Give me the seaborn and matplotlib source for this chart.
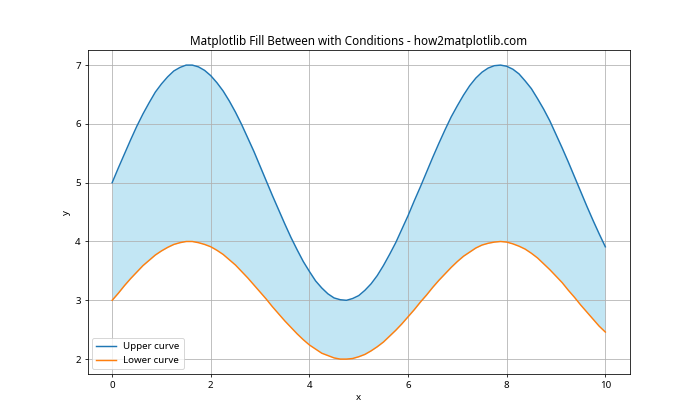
import matplotlib
matplotlib.use("Agg")
import matplotlib.pyplot as plt
import seaborn as sns
import pandas as pd

plt.rcParams['font.family'] = ['Noto Sans', 'DejaVu Sans']

x_vals = [0.0, 0.125, 0.25, 0.375, 0.5, 0.625, 0.75, 0.875,
          1.0, 1.125, 1.25, 1.375, 1.5, 1.625, 1.75, 1.875,
          2.0, 2.125, 2.25, 2.375, 2.5, 2.625, 2.75, 2.875,
          3.0, 3.125, 3.25, 3.375, 3.5, 3.625, 3.75, 3.875,
          4.0, 4.125, 4.25, 4.375, 4.5, 4.625, 4.75, 4.875,
          5.0, 5.125, 5.25, 5.375, 5.5, 5.625, 5.75, 5.875,
          6.0, 6.125, 6.25, 6.375, 6.5, 6.625, 6.75, 6.875,
          7.0, 7.125, 7.25, 7.375, 7.5, 7.625, 7.75, 7.875,
          8.0, 8.125, 8.25, 8.375, 8.5, 8.625, 8.75, 8.875,
          9.0, 9.125, 9.25, 9.375, 9.5, 9.625, 9.75, 9.875,
          10.0]
upper_vals = [5.00, 5.25, 5.49, 5.73, 5.96, 6.17, 6.36, 6.54,
              6.68, 6.80, 6.90, 6.96, 7.00, 7.00, 6.97, 6.91,
              6.82, 6.70, 6.56, 6.39, 6.20, 5.99, 5.76, 5.53,
              5.28, 5.03, 4.78, 4.54, 4.30, 4.07, 3.86, 3.66,
              3.49, 3.33, 3.21, 3.11, 3.04, 3.01, 3.00, 3.03,
              3.08, 3.17, 3.28, 3.42, 3.59, 3.78, 3.98, 4.21,
              4.44, 4.69, 4.93, 5.18, 5.43, 5.67, 5.90, 6.12,
              6.31, 6.49, 6.65, 6.78, 6.88, 6.95, 6.99, 7.00,
              6.98, 6.93, 6.85, 6.73, 6.60, 6.43, 6.25, 6.05,
              5.82, 5.59, 5.35, 5.10, 4.85, 4.60, 4.36, 4.13,
              3.91]
lower_vals = [3.00, 3.12, 3.25, 3.37, 3.48, 3.59, 3.68, 3.77,
              3.84, 3.90, 3.95, 3.98, 4.00, 4.00, 3.98, 3.95,
              3.91, 3.85, 3.78, 3.69, 3.60, 3.49, 3.38, 3.26,
              3.14, 3.02, 2.89, 2.77, 2.65, 2.54, 2.43, 2.33,
              2.24, 2.17, 2.10, 2.06, 2.02, 2.00, 2.00, 2.01,
              2.04, 2.08, 2.14, 2.21, 2.29, 2.39, 2.49, 2.60,
              2.72, 2.84, 2.97, 3.09, 3.22, 3.34, 3.45, 3.56,
              3.66, 3.75, 3.82, 3.89, 3.94, 3.97, 3.99, 4.00,
              3.99, 3.96, 3.92, 3.87, 3.80, 3.72, 3.62, 3.52,
              3.41, 3.30, 3.17, 3.05, 2.92, 2.80, 2.68, 2.56,
              2.46]

df = pd.DataFrame({"x": x_vals, "upper": upper_vals, "lower": lower_vals})

fig, ax = plt.subplots(figsize=(10, 6), dpi=70)
sns.lineplot(data=df, x="x", y="upper", ax=ax, color="#1f77b4", label="Upper curve")
sns.lineplot(data=df, x="x", y="lower", ax=ax, color="#ff7f0e", label="Lower curve")
ax.fill_between(df["x"], df["lower"], df["upper"], where=df["upper"] > df["lower"],
                color="skyblue", alpha=0.5, linewidth=0)
ax.set_title("Matplotlib Fill Between with Conditions - how2matplotlib.com")
ax.set_xlabel("x")
ax.set_ylabel("y")
ax.legend(loc="lower left")
ax.grid(True)
fig.savefig("out.png", dpi=70)
